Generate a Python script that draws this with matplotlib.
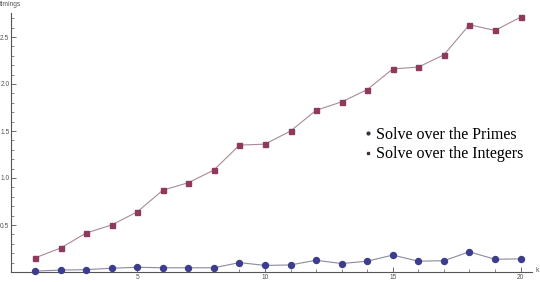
import matplotlib
matplotlib.use("Agg")
import matplotlib.pyplot as plt
from matplotlib.lines import Line2D

k = list(range(1, 21))

primes = [0.01, 0.02, 0.025, 0.04, 0.05, 0.045, 0.045, 0.045, 0.10, 0.07,
          0.075, 0.125, 0.09, 0.115, 0.18, 0.115, 0.12, 0.215, 0.135, 0.14]
integers = [0.15, 0.255, 0.415, 0.50, 0.64, 0.87, 0.95, 1.085, 1.35, 1.36,
            1.50, 1.72, 1.81, 1.94, 2.16, 2.18, 2.31, 2.63, 2.57, 2.71]

labels = ["Solve over the Primes", "Solve over the Integers"]

c_primes = "#3d3d8f"
c_ints = "#8e3a5c"

W, H = 540, 282
fig = plt.figure(figsize=(W / 100, H / 100), dpi=100)
ax = fig.add_axes([0, 0, 1, 1])

# pixel -> data mapping
x0, sx = 9.5, 25.55
y0, sy = 272, 94
ax.set_xlim((0 - x0) / sx, (W - x0) / sx)
ax.set_ylim((y0 - H) / sy, y0 / sy)

ax.plot(k, integers, "-", color="#a88a98", lw=0.8, zorder=2)
ax.plot(k, integers, "s", color=c_ints, ms=3.6, mec=c_ints, zorder=3)
ax.plot(k, primes, "-", color="#8a8aa0", lw=0.8, zorder=2)
ax.plot(k, primes, "o", color=c_primes, ms=4.3, mec=c_primes, zorder=3)

for s in ["top", "right"]:
    ax.spines[s].set_visible(False)
ax.spines["left"].set_position(("data", 0.06))
ax.spines["bottom"].set_position(("data", 0))
ax.spines["left"].set_bounds(0, 2.755)
ax.spines["bottom"].set_bounds(0.06, (531.7 - x0) / sx)
for s in ["left", "bottom"]:
    ax.spines[s].set_color("#555555")
    ax.spines[s].set_linewidth(0.8)

ax.set_xticks([5, 10, 15, 20])
ax.set_xticks([i for i in k if i % 5], minor=True)
ax.set_yticks([0.5, 1.0, 1.5, 2.0, 2.5])
ax.set_yticklabels(["0.5", "1.0", "1.5", "2.0", "2.5"])
ax.set_yticks([i / 10 for i in range(1, 28) if i % 5], minor=True)
ax.tick_params(which="major", direction="in", length=3.5, width=0.6,
               color="#555555", labelsize=4.8, labelcolor="#555555", pad=1.2)
ax.tick_params(which="minor", direction="in", length=2, width=0.5, color="#555555")
for t in ax.get_xticklabels() + ax.get_yticklabels():
    t.set_family("Liberation Sans")

ax.text(21, H - 5, "timings", transform=None, ha="right", va="center",
        fontsize=4.8, color="#555555", family="Liberation Sans")
ax.text(535, H - 271, "k", transform=None, ha="left", va="center",
        fontsize=4.8, color="#555555", family="Liberation Sans")

handles = [Line2D([], [], ls="none", marker="o", ms=2, color="#333344"),
           Line2D([], [], ls="none", marker="s", ms=1.8, color="#443333")]
ax.legend(handles, labels, loc="upper left", frameon=False,
          bbox_to_anchor=(364 / W, 1 - 127 / H), bbox_transform=fig.transFigure,
          prop={"family": "Liberation Serif", "size": 11.5},
          handlelength=0.5, handletextpad=0.25, labelspacing=0.2, borderpad=0,
          borderaxespad=0)

fig.savefig("out.png", dpi=100)
